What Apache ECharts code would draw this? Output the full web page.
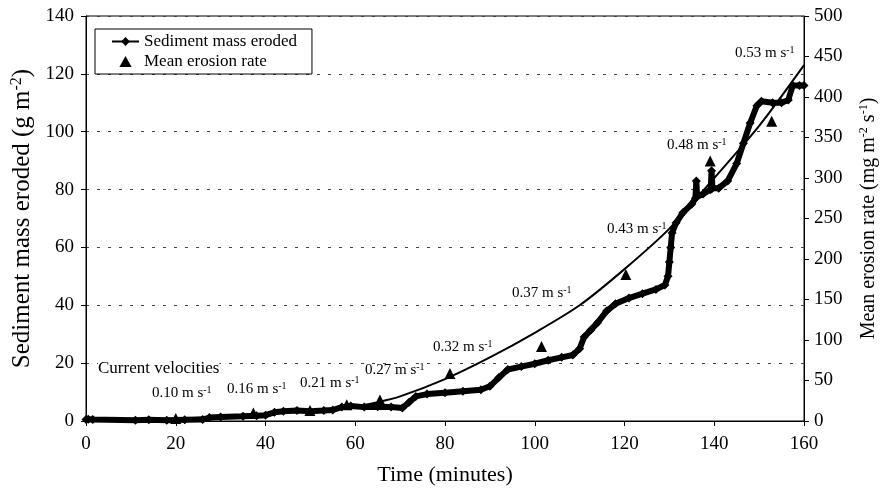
<!DOCTYPE html>
<html>
<head>
<meta charset="utf-8">
<script src="https://cdn.jsdelivr.net/npm/echarts@6/dist/echarts.min.js"></script>
<style>
html,body{margin:0;padding:0;background:#fff}
#chart{width:893px;height:493px}
</style>
</head>
<body>
<div id="chart"></div>
<script>
// cumulative sediment mass eroded (g m-2), left axis
const massTime = [0, 0.5, 1.5, 11, 14, 18, 22, 26, 27.5, 30, 35, 38, 40, 42, 44, 47, 50, 53, 55, 57, 59, 62, 65, 68, 70.5,
  72, 73.5, 76, 80, 84, 88, 90, 92, 94, 97, 100, 103, 106, 108.5, 110, 111, 112.5, 114, 116, 118, 121, 124, 127, 129,
  129.7, 130, 130.3, 130.6, 131.5, 133, 135, 135.8, 136, 136.2, 137.5, 139.2, 139.4, 139.6, 141, 143, 145, 146.5, 148,
  149.5, 150.5, 153, 155, 156.5, 157.5, 159, 160];
const massValue = [0.5, 0.6, 0.5, 0.3, 0.4, 0.3, 0.4, 0.5, 1.2, 1.4, 1.6, 1.8, 2.0, 3.0, 3.4, 3.6, 3.4, 3.6, 3.8, 4.8, 5.2, 4.8, 4.9, 4.8, 4.5,
  6.5, 8.5, 9.3, 9.8, 10.3, 10.8, 12, 15, 17.8, 18.8, 19.8, 21, 22, 22.8, 25, 29, 31.5, 34, 38, 40.5, 42.5, 44, 45.5, 47,
  50, 55, 60, 65, 68.5, 72, 75, 77, 83, 77.5, 78.5, 80, 86.5, 80.5, 80.5, 83, 89, 96, 103,
  109, 110.5, 110, 110, 111, 116, 116, 116];

// mean erosion rate (mg m-2 s-1), right axis
const rateTime = [20, 37.3, 49.9, 58.1, 65.5, 81.1, 101.5, 120.3, 139.1, 152.8];
const rateValue = [3, 10, 13, 20, 26, 58.6, 92, 181, 321, 370];

// fitted curve for the mass eroded
const fitTime = [0, 10, 20, 30, 40, 50, 60, 65, 70, 80, 90, 100, 110, 120, 130, 140, 150, 160];
const fitValue = [0, 0.3, 0.8, 1.5, 2.3, 3.5, 5.0, 6.5, 8.5, 14.5, 22, 30.5, 40, 52.5, 66.5, 84, 102, 123];

const velocities = ['0.10', '0.16', '0.21', '0.27', '0.32', '0.37', '0.43', '0.48', '0.53'];
const velocityPos = [[152, 385], [227, 381], [300, 375], [365, 362], [433, 339], [512, 285], [607, 221], [667, 137], [735, 45]];

const font = 'Liberation Serif';

const chart = echarts.init(document.getElementById('chart'));

const velGraphics = velocities.map((v, i) => ({
  type: 'text',
  left: velocityPos[i][0],
  top: velocityPos[i][1],
  style: {
    text: '{a|' + v + ' m s}{s|-1}',
    rich: {
      a: {fontFamily: font, fontSize: 15, fill: '#000', lineHeight: 17},
      s: {fontFamily: font, fontSize: 10, fill: '#000', verticalAlign: 'top', lineHeight: 17}
    }
  }
}));

const supName = (size) => ({
  a: {fontFamily: font, fontSize: size, color: '#000', lineHeight: size + 2},
  s: {fontFamily: font, fontSize: Math.round(size * 0.62), color: '#000', verticalAlign: 'top', lineHeight: size + 2}
});

chart.setOption({
  animation: false,
  backgroundColor: '#fff',
  textStyle: {fontFamily: font, color: '#000'},
  grid: {left: 86, right: 89, top: 16, bottom: 72, show: true, borderColor: '#000', borderWidth: 1},
  legend: {
    data: ['Sediment mass eroded', {name: 'Mean erosion rate', icon: 'path://M5,0L10,9L0,9Z'}],
    orient: 'vertical',
    left: 95,
    top: 29,
    padding: [4, 15, 4, 16],
    itemGap: 3,
    itemWidth: 27,
    itemHeight: 11,
    symbolKeepAspect: true,
    borderColor: '#000',
    borderWidth: 1,
    backgroundColor: '#fff',
    textStyle: {fontFamily: font, fontSize: 17, color: '#000'}
  },
  xAxis: {
    type: 'value', min: 0, max: 160, interval: 20,
    name: 'Time (minutes)', nameLocation: 'middle', nameGap: 43,
    nameTextStyle: {fontFamily: font, fontSize: 22, color: '#000'},
    axisLine: {lineStyle: {color: '#000', width: 1}},
    axisTick: {length: 5, lineStyle: {color: '#000'}},
    axisLabel: {fontFamily: font, fontSize: 19, color: '#000', margin: 14},
    splitLine: {show: false}
  },
  yAxis: [{
    type: 'value', min: 0, max: 140, interval: 20, position: 'left',
    name: '{a|Sediment mass eroded (g m}{s|-2}{a|)}', nameLocation: 'middle', nameGap: 44, nameRotate: 90,
    nameTextStyle: {rich: supName(25)},
    axisLine: {show: true, lineStyle: {color: '#000', width: 1}},
    axisTick: {show: true, length: 5, lineStyle: {color: '#000'}},
    axisLabel: {fontFamily: font, fontSize: 19, color: '#000', margin: 12},
    splitLine: {show: true, lineStyle: {color: '#444', width: 1, type: [3, 8]}}
  }, {
    type: 'value', min: 0, max: 500, interval: 50, position: 'right',
    name: '{a|Mean erosion rate (mg m}{s|-2}{a| s}{s|-1}{a|)}', nameLocation: 'middle', nameGap: 54, nameRotate: 90,
    nameTextStyle: {rich: supName(20)},
    axisLine: {show: true, lineStyle: {color: '#000', width: 1}},
    axisTick: {show: true, length: 5, lineStyle: {color: '#000'}},
    axisLabel: {fontFamily: font, fontSize: 19, color: '#000', margin: 10},
    splitLine: {show: false}
  }],
  series: [{
    name: 'Sediment mass eroded',
    type: 'line',
    data: massTime.map((t, i) => [t, massValue[i]]),
    symbol: 'diamond',
    symbolSize: 9,
    lineStyle: {color: '#000', width: 6},
    itemStyle: {color: '#000', opacity: 1},
    z: 3
  }, {
    name: 'Mean erosion rate',
    type: 'scatter',
    yAxisIndex: 1,
    data: rateTime.map((t, i) => [t, rateValue[i]]),
    symbol: 'triangle',
    symbolSize: 11,
    itemStyle: {color: '#000', opacity: 1},
    z: 4
  }, {
    name: 'fit',
    type: 'line',
    data: fitTime.map((t, i) => [t, fitValue[i]]),
    smooth: 0.3,
    showSymbol: false,
    lineStyle: {color: '#000', width: 2},
    z: 2
  }],
  graphic: [{
    type: 'text', left: 98, top: 360, z: 10,
    style: {text: 'Current velocities', fontFamily: font, fontSize: 17, fill: '#000', backgroundColor: '#fff'}
  }].concat(velGraphics)
});
</script>
</body>
</html>
